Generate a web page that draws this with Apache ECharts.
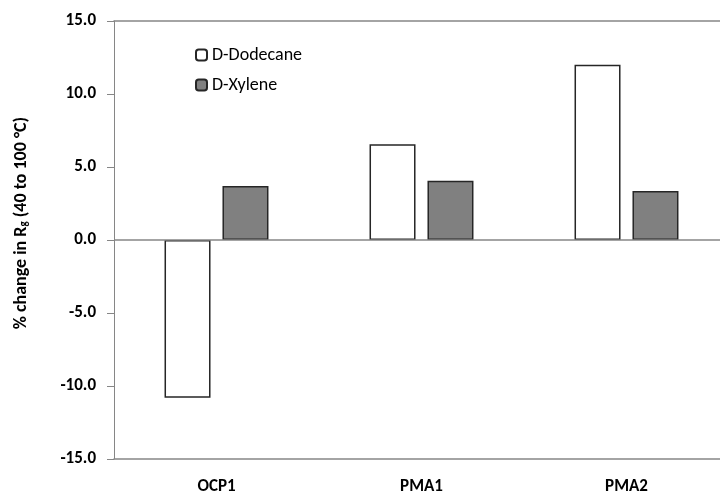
<!DOCTYPE html>
<html>
<head>
<meta charset="utf-8">
<script src="https://cdn.jsdelivr.net/npm/echarts@6/dist/echarts.min.js"></script>
<style>html,body{margin:0;padding:0;background:#fff;overflow:hidden}#c{width:720px;height:494px}</style>
</head>
<body>
<div id="c"></div>
<script>
const categories = ['OCP1', 'PMA1', 'PMA2'];
const dodecane = [-10.8, 6.55, 12.0];
const xylene = [3.7, 4.05, 3.35];
const yTicks = { min: -15, max: 15, interval: 5 };

const FONT = 'Carlito, Lato, "Liberation Sans", sans-serif';
const AXIS_GRAY = '#868686';
const chart = echarts.init(document.getElementById('c'), null, { renderer: 'canvas' });
chart.setOption({
  animation: false,
  backgroundColor: '#ffffff',
  textStyle: { fontFamily: FONT },
  grid: { left: 114, top: 21, width: 615, height: 438, show: false, containLabel: false, outerBoundsMode: 'none' },
  legend: {
    orient: 'vertical', left: 190, top: 41, itemWidth: 11, itemHeight: 11, itemGap: 12,
    textStyle: { fontFamily: FONT, fontSize: 18, color: '#000' },
    data: ['D-Dodecane', 'D-Xylene']
  },
  xAxis: [
    {
      type: 'category', data: categories, position: 'bottom',
      axisLine: { show: true, onZero: false, lineStyle: { color: AXIS_GRAY, width: 1.5 } },
      axisTick: { show: false },
      axisLabel: { fontFamily: FONT, fontSize: 17, fontWeight: 'bold', color: '#000', margin: 19 },
      splitLine: { show: false }
    },
    {
      type: 'category', data: categories, position: 'top',
      axisLine: { show: true, onZero: false, lineStyle: { color: AXIS_GRAY, width: 1.5 } },
      axisTick: { show: false },
      axisLabel: { show: false },
      splitLine: { show: false }
    }
  ],
  yAxis: {
    type: 'value', min: yTicks.min, max: yTicks.max, interval: yTicks.interval,
    axisLine: { show: true, onZero: false, lineStyle: { color: AXIS_GRAY, width: 1 } },
    axisTick: { show: true, inside: false, length: 7, lineStyle: { color: AXIS_GRAY } },
    axisLabel: { fontFamily: FONT, fontSize: 17, fontWeight: 'bold', color: '#000', margin: 18,
      formatter: v => v.toFixed(1) },
    splitLine: { show: false },
    name: '{a|% change in R}{s|g}{a| (40 to 100 °C)}',
    nameLocation: 'middle', nameGap: 84, nameRotate: 90,
    nameTextStyle: {
      padding: [0, 0, 0, 34],
      rich: {
        a: { fontFamily: FONT, fontSize: 18, fontWeight: 'bold', color: '#000' },
        s: { fontFamily: FONT, fontSize: 11, fontWeight: 'bold', color: '#000', verticalAlign: 'bottom', padding: [7, 0, 0, 0] }
      }
    }
  },
  graphic: [
    { type: 'rect', silent: true, z: 100, shape: { x: 712, y: 22.5, width: 8, height: 216 }, style: { fill: '#ffffff' } },
    { type: 'rect', silent: true, z: 100, shape: { x: 712, y: 241.5, width: 8, height: 216.5 }, style: { fill: '#ffffff' } }
  ],
  series: [
    {
      name: 'D-Dodecane', type: 'bar', data: dodecane, barWidth: 46, barGap: '26%',
      itemStyle: { color: '#ffffff', borderColor: '#262626', borderWidth: 1.5 },
      markLine: {
        silent: true, symbol: 'none', label: { show: false },
        lineStyle: { color: AXIS_GRAY, type: 'solid', width: 1.5 },
        data: [{ yAxis: 0 }]
      }
    },
    {
      name: 'D-Xylene', type: 'bar', data: xylene, barWidth: 46,
      itemStyle: { color: '#808080', borderColor: '#262626', borderWidth: 1.5 }
    }
  ]
});
</script>
</body>
</html>
